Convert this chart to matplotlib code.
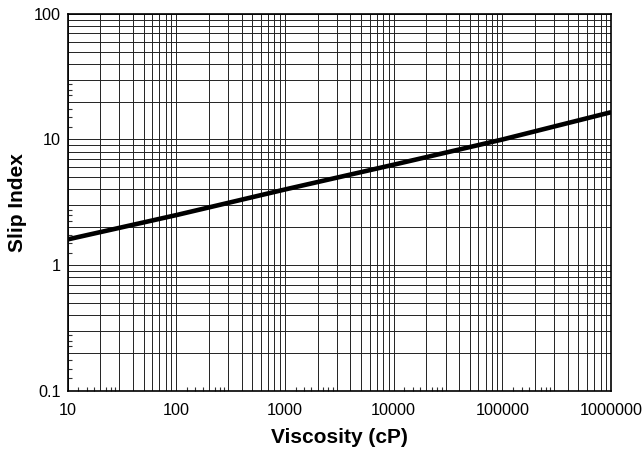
import matplotlib
matplotlib.use("Agg")
import matplotlib.pyplot as plt
from matplotlib.ticker import FixedLocator, FuncFormatter, NullFormatter

plt.rcParams['font.family'] = ['Liberation Sans', 'DejaVu Sans']

viscosity = [10, 100, 1000, 10000, 100000, 1000000]
slip_index = [1.6, 2.5, 4.0, 6.3, 10.0, 16.5]

x_ticks = [10, 100, 1000, 10000, 100000, 1000000]
x_labels = ["10", "100", "1000", "10000", "100000", "1000000"]
y_ticks = [0.1, 1, 10, 100]
y_labels = ["0.1", "1", "10", "100"]

fig = plt.figure(figsize=(6.44, 4.49), dpi=100)
ax = fig.add_axes([0.105, 0.130, 0.844, 0.839])

ax.plot(viscosity, slip_index, color='black', linewidth=3.3, solid_capstyle='butt', zorder=3)

ax.set_xscale('log')
ax.set_yscale('log')
ax.set_xlim(10, 1e6)
ax.set_ylim(0.1, 100)


def grid_positions(lo_exp, hi_exp):
    pos = []
    for e in range(lo_exp, hi_exp + 1):
        for m in range(1, 10):
            pos.append(m * 10.0 ** e)
    return pos


def sub_positions(lo_exp, hi_exp):
    pos = []
    for e in range(lo_exp, hi_exp + 1):
        for m in [1.25, 1.5, 1.75, 2.25, 2.5, 2.75]:
            pos.append(m * 10.0 ** e)
    return pos


xg = [v for v in grid_positions(1, 6) if 10 <= v <= 1e6 * 1.0001]
yg = [v for v in grid_positions(-1, 2) if 0.1 <= v <= 100.0001]
ax.xaxis.set_major_locator(FixedLocator(xg))
ax.yaxis.set_major_locator(FixedLocator(yg))

xlab = dict(zip(x_ticks, x_labels))
ylab = dict(zip(y_ticks, y_labels))


def fx(v, p):
    for k, s in xlab.items():
        if abs(v - k) / k < 1e-6:
            return s
    return ""


def fy(v, p):
    for k, s in ylab.items():
        if abs(v - k) / k < 1e-6:
            return s
    return ""


ax.xaxis.set_major_formatter(FuncFormatter(fx))
ax.yaxis.set_major_formatter(FuncFormatter(fy))
ax.xaxis.set_minor_locator(FixedLocator(sub_positions(1, 5)))
ax.yaxis.set_minor_locator(FixedLocator(sub_positions(-1, 1)))
ax.xaxis.set_minor_formatter(NullFormatter())
ax.yaxis.set_minor_formatter(NullFormatter())

ax.tick_params(which='major', length=0, labelsize=11.7, colors='black')
ax.tick_params(axis='x', which='major', pad=9)
ax.tick_params(axis='y', which='major', pad=5)
ax.tick_params(which='minor', direction='in', length=3, width=0.8, color='#333333')

ax.grid(True, which='major', color='#222222', linewidth=0.7)

for s in ax.spines.values():
    s.set_linewidth(1.2)
    s.set_color('black')

xl = ax.set_xlabel('Viscosity (cP)', fontsize=15, fontweight='bold')
yl = ax.set_ylabel('Slip Index', fontsize=15, fontweight='bold')
xl.set_va('center')
yl.set_va('center')
ax.xaxis.set_label_coords(0.5, -0.125)
ax.yaxis.set_label_coords(-0.093, 0.5)

fig.savefig('out.png', dpi=100)
